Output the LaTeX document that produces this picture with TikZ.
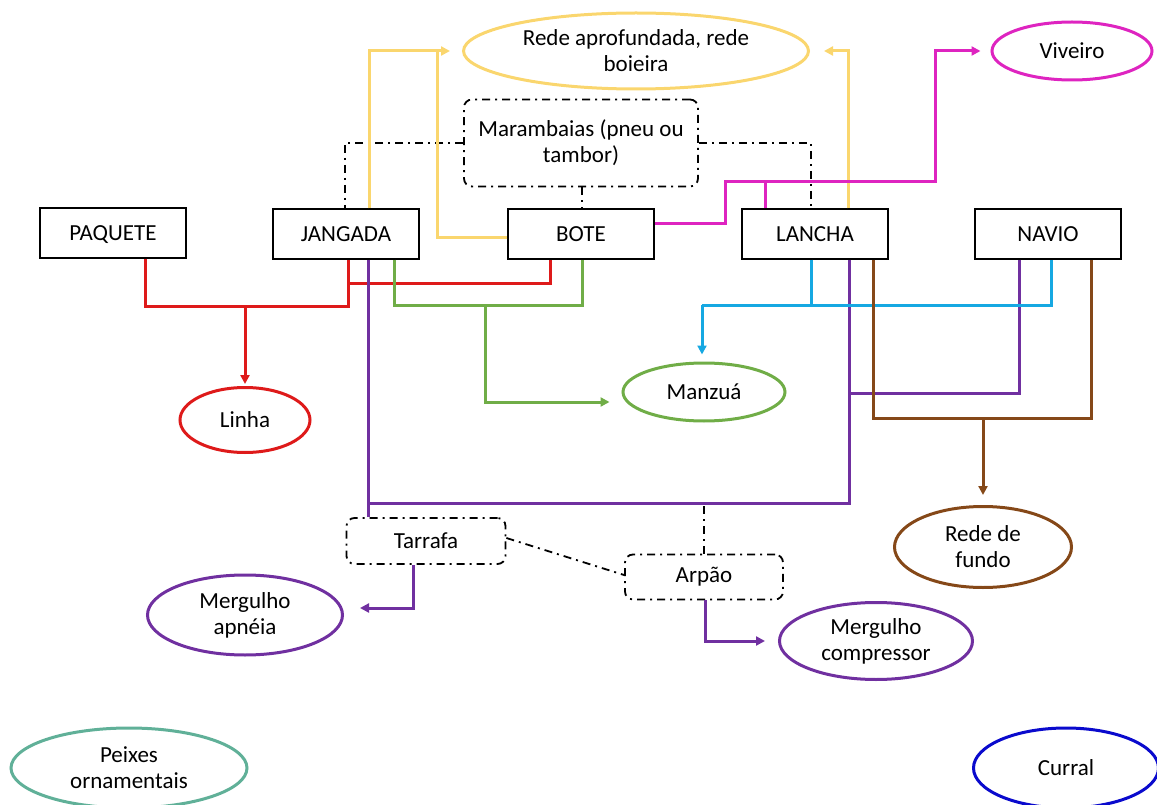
\documentclass[tikz,border=0pt]{standalone}
\usepackage{fontspec}
\setmainfont{Carlito}
\usetikzlibrary{shapes.geometric,arrows.meta}

\definecolor{cRed}{RGB}{222,26,26}
\definecolor{cYellow}{RGB}{250,214,110}
\definecolor{cGreen}{RGB}{112,173,71}
\definecolor{cPurple}{RGB}{112,48,160}
\definecolor{cCyan}{RGB}{22,168,226}
\definecolor{cBrown}{RGB}{133,72,24}
\definecolor{cMagenta}{RGB}{222,36,192}
\definecolor{cTeal}{RGB}{96,176,152}
\definecolor{cBlue}{RGB}{10,10,205}

\begin{document}
\begin{tikzpicture}[x=1pt,y=-1pt,
	>={Triangle[length=9pt,width=9pt]},
	every node/.style={font=\fontsize{23}{26}\selectfont,align=center},
	boat/.style={shape=rectangle,draw=black,line width=1.3pt,minimum width=146pt,minimum height=50pt,inner sep=0pt,text height=15pt,text depth=0pt},
	gear/.style={shape=rectangle,draw=black,line width=1.8pt,rounded corners=8pt,dash pattern=on 8pt off 5pt on 2pt off 5pt,inner sep=0pt},
	target/.style={shape=ellipse,line width=3pt,inner sep=0pt},
	link/.style={line width=3pt},
	dashlink/.style={draw=black,line width=1.8pt,dash pattern=on 8pt off 5pt on 2pt off 5pt}]

	\useasboundingbox (0,0) rectangle (1157,805);

	% boats
	\node[boat] (paquete) at (113,233)  {PAQUETE};
	\node[boat] (jangada) at (346,234)  {JANGADA};
	\node[boat] (bote)    at (581,234)  {BOTE};
	\node[boat] (lancha)  at (815,234)  {LANCHA};
	\node[boat] (navio)   at (1048,234) {NAVIO};

	% gears
	\node[gear,minimum width=234pt,minimum height=87pt] (maramb)  at (581,143) {Marambaias (pneu ou\\tambor)};
	\node[gear,minimum width=159pt,minimum height=46pt] (tarrafa) at (426,541) {Tarrafa};
	\node[gear,minimum width=158pt,minimum height=45pt] (arpao)   at (704,577) {Arpão};

	% fisheries
	\node[target,draw=cYellow,minimum width=345pt,minimum height=76pt]  (rede)       at (636,51)   {Rede aprofundada, rede\\boieira};
	\node[target,draw=cMagenta,minimum width=160pt,minimum height=58pt] (viveiro)    at (1072,51)  {Viveiro};
	\node[target,draw=cRed,minimum width=130pt,minimum height=65pt]     (linha)      at (245,420)  {Linha};
	\node[target,draw=cGreen,minimum width=162pt,minimum height=58pt]   (manzua)     at (704,392)  {Manzuá};
	\node[target,draw=cBrown,minimum width=177pt,minimum height=81pt]   (redefundo)  at (983,547)  {Rede de\\fundo};
	\node[target,draw=cPurple,minimum width=195pt,minimum height=80pt]  (apneia)     at (245,615)  {Mergulho\\apnéia};
	\node[target,draw=cPurple,minimum width=193pt,minimum height=77pt]  (compressor) at (876,641)  {Mergulho\\compressor};
	\node[target,draw=cTeal,minimum width=236pt,minimum height=80pt]    (peixes)     at (129,768)  {Peixes\\ornamentais};
	\node[target,draw=cBlue,minimum width=185pt,minimum height=80pt]    (curral)     at (1066,768) {Curral};

	\coordinate (redj)   at (245,306);
	\coordinate (greenj) at (485,305);
	\coordinate (cyanj)  at (702,305);
	\coordinate (purpj)  at (368,503);
	\coordinate (purpk)  at (849,393);
	\coordinate (brownj) at (983,418);
	\coordinate (yellj)  at (437,51);
	\coordinate (magk)   at (725,182);
	\coordinate (magj)   at (765,182);
	\coordinate (magl)   at (935,182);

	% dash-dot links
	\draw[dashlink] (maramb.west) -| ([xshift=-1]jangada.north);
	\draw[dashlink] (maramb.east) -| ([xshift=-4]lancha.north);
	\draw[dashlink] ([xshift=1]maramb.south) -- ([xshift=1]bote.north);
	\draw[dashlink] ([yshift=3]tarrafa.east) -- ([yshift=2]arpao.west);
	\draw[dashlink] (arpao.north) -- (arpao.north |- purpj);

	% yellow
	\draw[link,draw=cYellow,->] ([xshift=23]jangada.north) |- ([xshift=-12]rede.west);
	\draw[link,draw=cYellow] ([yshift=-4]bote.west) -| (yellj);
	\draw[link,draw=cYellow,->] ([xshift=33]lancha.north) |- ([xshift=14]rede.east);

	% magenta
	\draw[link,draw=cMagenta] ([yshift=10]bote.east) -| (magk) -- (magj);
	\draw[link,draw=cMagenta,->] (magj) -- (magl) |- ([xshift=-10]viveiro.west);
	\draw[link,draw=cMagenta] ([xshift=-50]lancha.north) -- (magj);

	% red
	\draw[link,draw=cRed] ([xshift=32]paquete.south) |- (redj) -| ([xshift=2]jangada.south);
	\draw[link,draw=cRed] ([xshift=2]jangada.south) ++(0,24) -| ([xshift=-31]bote.south);
	\draw[link,draw=cRed,->,shorten >=2pt] (redj) -- (linha);

	% purple
	\draw[link,draw=cPurple] ([xshift=22]jangada.south) -- ([xshift=-58]tarrafa.north);
	\draw[link,draw=cPurple] ([xshift=-22]bote.south) -- (bote.south -| 559,0 |- purpj);
	\draw[link,draw=cPurple] ([xshift=34]lancha.south) |- (purpj);
	\draw[link,draw=cPurple] ([xshift=-29]navio.south) |- (purpk);
	\draw[link,draw=cPurple,->] ([xshift=-13]tarrafa.south) |- ([xshift=16,yshift=7]apneia.east);
	\draw[link,draw=cPurple,->] ([xshift=1]arpao.south) |- ([xshift=-13]compressor.west);

	% green
	\draw[link,draw=cGreen] ([xshift=48]jangada.south) |- (greenj) -| ([xshift=1]bote.south);
	\draw[link,draw=cGreen,->] (greenj) |- ([xshift=-12,yshift=-10]manzua.west);

	% cyan
	\draw[link,draw=cCyan] ([xshift=-4]lancha.south) |- (cyanj);
	\draw[link,draw=cCyan] ([xshift=-4]lancha.south |- cyanj) -| ([xshift=3]navio.south);
	\draw[link,draw=cCyan,->] (cyanj) -- ([yshift=7]cyanj |- manzua.north);

	% brown
	\draw[link,draw=cBrown] ([xshift=58]lancha.south) |- (brownj) -| ([xshift=43]navio.south);
	\draw[link,draw=cBrown,->] (brownj) -- ([yshift=10]redefundo.north);

\end{tikzpicture}
\end{document}
